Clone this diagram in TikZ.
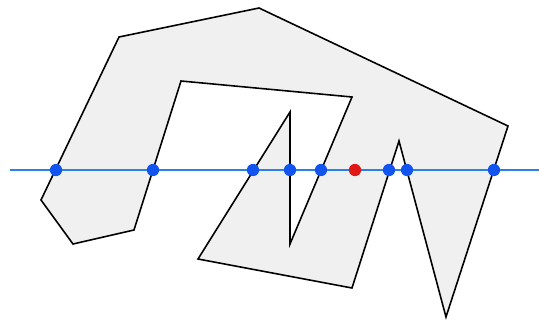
\documentclass[tikz,border=0pt]{standalone}
\usepackage{tikz}
\usetikzlibrary{positioning,calc}
\usepackage{xcolor}
\definecolor{ray}{HTML}{2A7FEA}
\definecolor{hit}{HTML}{1255EE}
\definecolor{probe}{HTML}{E01818}
\definecolor{shade}{HTML}{F0F0F0}
\tikzset{
  poly/.style={draw=black,fill=shade,line width=0.9pt,line join=miter},
  rayline/.style={draw=ray,line width=0.9pt},
  cross/.style={circle,fill=hit,inner sep=0pt,minimum size=7pt},
  query/.style={circle,fill=probe,inner sep=0pt,minimum size=7pt}
}
\begin{document}
\begin{tikzpicture}[x=0.02cm,y=-0.02cm]
        \useasboundingbox (0,0) rectangle (539,325);
        \draw[poly] (119,37) -- (259,8) -- (508,126) -- (446,317) -- (399,141) -- (352,288)
          -- (198,259) -- (290,112) -- (290,244) -- (352,97) -- (181,81) -- (134,230)
          -- (73,244) -- (41,200) -- cycle;
        \coordinate (rayL) at (10,170);
        \coordinate (rayR) at (539,170);
        \draw[rayline] (rayL) -- (rayR);
        \foreach \x [count=\i] in {56,153,253,290,321,389,407,494}
          \node[cross] (h\i) at (\x,170) {};
        \node[query] (q) at (355,170) {};
      \end{tikzpicture}
\end{document}
